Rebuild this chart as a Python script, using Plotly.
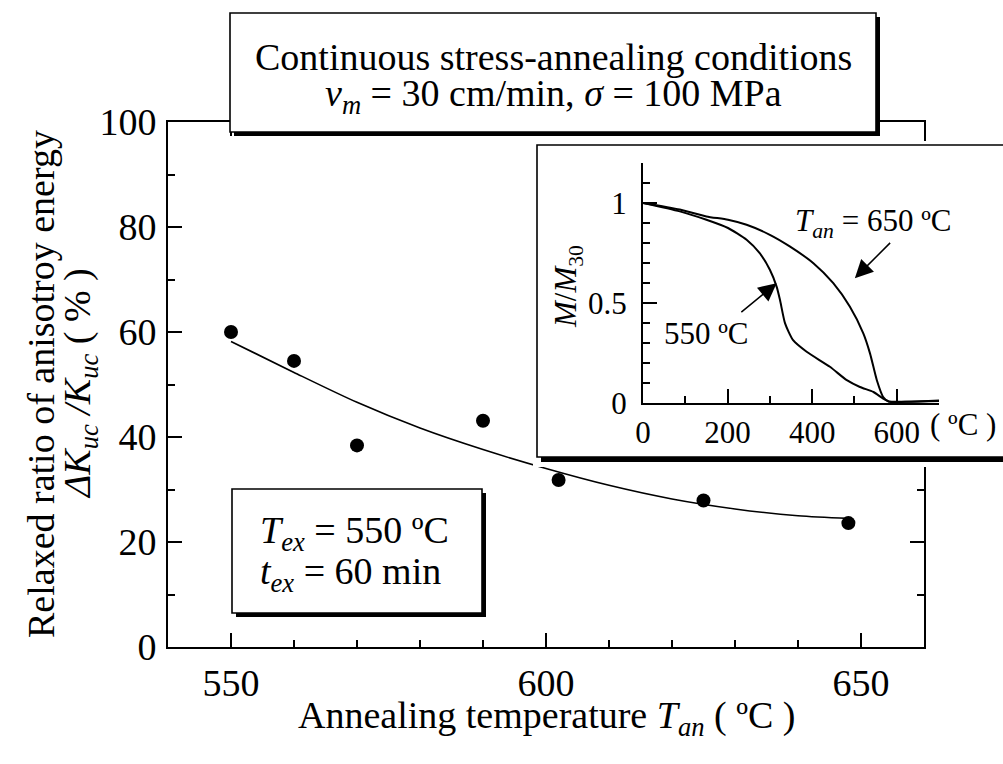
import plotly.graph_objects as go

W, H = 1003, 764
FONT = "Liberation Serif"

# ---------------- data ----------------
anneal_temp = [550, 560, 570, 590, 602, 625, 648]
relaxed_ratio = [60.0, 54.5, 38.4, 43.1, 31.8, 27.9, 23.6]

fit_temp = [550, 560, 570, 580, 590, 600, 610, 620, 630, 640, 648]
fit_ratio = [58.2, 52.3, 46.6, 41.7, 37.6, 34.0, 30.8, 28.2, 26.3, 25.0, 24.5]

# inset: M/M30 vs temperature
inset_T_650 = [0, 87, 150, 201, 245, 300, 347, 403, 450, 489, 521, 537, 553, 568, 580, 600, 650, 700]
inset_M_650 = [1.0, 0.967, 0.933, 0.916, 0.891, 0.841, 0.783, 0.699, 0.599, 0.482, 0.348, 0.247,
               0.114, 0.030, 0.008, 0.006, 0.008, 0.012]
inset_T_550 = [0, 87, 150, 201, 245, 276, 300, 316, 324, 336, 355, 387, 442, 482, 513, 545, 568,
               584, 620, 700]
inset_M_550 = [1.0, 0.958, 0.916, 0.875, 0.816, 0.749, 0.666, 0.582, 0.515, 0.398, 0.314, 0.256,
               0.181, 0.114, 0.080, 0.055, 0.022, 0.006, 0.006, 0.010]

main_xticks = [550, 600, 650]
main_yticks = [0, 20, 40, 60, 80, 100]
inset_xticks = [0, 200, 400, 600]
inset_yticks = [0, 0.5, 1]


def PX(px):
    return px / W


def PY(py):
    return 1 - py / H


fig = go.Figure()

fig.add_trace(go.Scatter(x=fit_temp, y=fit_ratio, mode="lines",
                         line=dict(color="black", width=1.6, shape="spline", smoothing=0.8),
                         xaxis="x", yaxis="y", hoverinfo="skip"))
fig.add_trace(go.Scatter(x=anneal_temp, y=relaxed_ratio, mode="markers",
                         marker=dict(color="black", size=14),
                         xaxis="x", yaxis="y"))
# holder subplot for the inset frame (drawn above the main subplot)
fig.add_trace(go.Scatter(x=[], y=[], xaxis="x2", yaxis="y2", hoverinfo="skip"))
# inset curves
fig.add_trace(go.Scatter(x=inset_T_650, y=inset_M_650, mode="lines",
                         line=dict(color="black", width=2, shape="spline", smoothing=0.6),
                         xaxis="x3", yaxis="y3", hoverinfo="skip"))
fig.add_trace(go.Scatter(x=inset_T_550, y=inset_M_550, mode="lines",
                         line=dict(color="black", width=2, shape="spline", smoothing=0.6),
                         xaxis="x3", yaxis="y3", hoverinfo="skip"))

axis_common = dict(showline=True, linecolor="black", linewidth=1.6, showgrid=False,
                   zeroline=False, ticks="inside", tickcolor="black", tickwidth=1.6,
                   automargin=False,
                   tickfont=dict(family=FONT, size=38, color="black"))

# main axes geometry (pixels)
mx0, mx1, my0, my1 = 168, 924, 122, 647
# inset frame holder (pixels)
bx0, bx1, by0, by1 = 533, 1003, 141, 467
# inset axes (pixels)
ix0, ix1, iy0, iy1 = 643, 939, 163, 403

fig.update_layout(
    template="none",
    width=W, height=H, margin=dict(l=0, r=0, t=0, b=0, pad=0), autosize=False,
    paper_bgcolor="white", plot_bgcolor="white", showlegend=False,
    font=dict(family=FONT, color="black"),
    xaxis=dict(axis_common, domain=[PX(mx0), PX(mx1)], range=[540, 660],
               tickvals=main_xticks, ticklen=14, mirror="ticks", anchor="y",
               minor=dict(ticks="inside", dtick=10, ticklen=7, tickcolor="black", tickwidth=1.6),
               ticklabelstandoff=2),
    yaxis=dict(axis_common, domain=[PY(my1), PY(my0)], range=[0, 100],
               tickvals=main_yticks, ticklen=14, mirror="ticks", anchor="x",
               minor=dict(ticks="inside", dtick=10, ticklen=7, tickcolor="black", tickwidth=1.6),
               ticklabelstandoff=2),
    xaxis2=dict(domain=[PX(bx0), PX(bx1)], range=[bx0, bx1], visible=False, anchor="y2",
                fixedrange=True, automargin=False),
    yaxis2=dict(domain=[PY(by1), PY(by0)], range=[by1, by0], visible=False, anchor="x2",
                fixedrange=True, automargin=False),
    xaxis3=dict(axis_common, domain=[PX(ix0), PX(ix1)], range=[0, 700], anchor="y3",
                tickvals=inset_xticks, ticklen=14, linewidth=2,
                tickfont=dict(family=FONT, size=31, color="black"),
                minor=dict(ticks="inside", dtick=100, ticklen=7, tickcolor="black", tickwidth=1.6),
                ticklabelstandoff=1),
    yaxis3=dict(axis_common, domain=[PY(iy1), PY(iy0)], range=[0, 1.2], anchor="x3",
                tickvals=inset_yticks, ticktext=["0", "0.5", "1"], ticklen=14, linewidth=2,
                tickfont=dict(family=FONT, size=31, color="black"),
                minor=dict(ticks="inside", dtick=0.1, ticklen=7, tickcolor="black", tickwidth=1.6),
                ticklabelstandoff=8),
)

shapes = []
# inset frame (in holder subplot pixel coordinates)
shapes.append(dict(type="rect", xref="x2", yref="y2", layer="below",
                   x0=541, x1=1020, y0=149, y1=462, fillcolor="black", line=dict(width=0)))
shapes.append(dict(type="rect", xref="x2", yref="y2", layer="below",
                   x0=537, x1=1020, y0=145, y1=457, fillcolor="white",
                   line=dict(color="black", width=1.6)))


def boxed(x0, y0, x1, y1):
    shapes.append(dict(type="rect", xref="paper", yref="paper", layer="above",
                       x0=PX(x0 + 4), x1=PX(x1 + 4), y0=PY(y0 + 4), y1=PY(y1 + 4),
                       fillcolor="black", line=dict(width=0)))
    shapes.append(dict(type="rect", xref="paper", yref="paper", layer="above",
                       x0=PX(x0), x1=PX(x1), y0=PY(y0), y1=PY(y1),
                       fillcolor="white", line=dict(color="black", width=1.6)))


boxed(230, 13, 876, 132)
boxed(232, 489, 482, 613)
fig.update_layout(shapes=shapes)

ann = []


def txt(text, x, y, size=38, xanchor="center", yanchor="middle", angle=0):
    ann.append(dict(text=text, x=PX(x), y=PY(y), xref="paper", yref="paper",
                    showarrow=False, xanchor=xanchor, yanchor=yanchor, textangle=angle,
                    font=dict(family=FONT, size=size, color="black")))


# title box
txt("Continuous stress-annealing conditions", 553, 57)
txt("<i>v</i><sub><i>m</i></sub> = 30 cm/min, <i>σ</i> = 100 MPa", 553, 96)
# condition box
txt("<i>T</i><sub><i>ex</i></sub> = 550 ºC", 258, 533, xanchor="left")
txt("<i>t</i><sub><i>ex</i></sub> = 60 min", 258, 574, xanchor="left")
# axis titles
txt("Annealing temperature <i>T</i><sub><i>an</i></sub> ( ºC )", 546, 718)
txt("Relaxed ratio of anisotroy energy", 41, 384, angle=-90)
txt("<i>ΔK</i><sub><i>uc</i></sub><i> /K</i><sub><i>uc</i></sub> ( % )", 80, 384, angle=-90)
# inset labels
txt("<i>M</i>/<i>M</i><sub>30</sub>", 568, 287, size=31, angle=-90)
txt("<i>T</i><sub><i>an</i></sub> = 650 ºC", 793, 223, size=31, xanchor="left")
txt("550 ºC", 706, 333, size=31)
txt("( ºC )", 963, 425, size=31)

# arrows in inset
ann.append(dict(x=501, y=0.624, ax=588, ay=0.808, xref="x3", yref="y3", axref="x3", ayref="y3",
                text="", showarrow=True, arrowhead=2, arrowsize=2.4, arrowwidth=1.5,
                arrowcolor="black"))
ann.append(dict(x=316, y=0.599, ax=229, ay=0.448, xref="x3", yref="y3", axref="x3", ayref="y3",
                text="", showarrow=True, arrowhead=2, arrowsize=2.4, arrowwidth=1.5,
                arrowcolor="black"))
fig.update_layout(annotations=ann)

fig.write_html("out.html")
